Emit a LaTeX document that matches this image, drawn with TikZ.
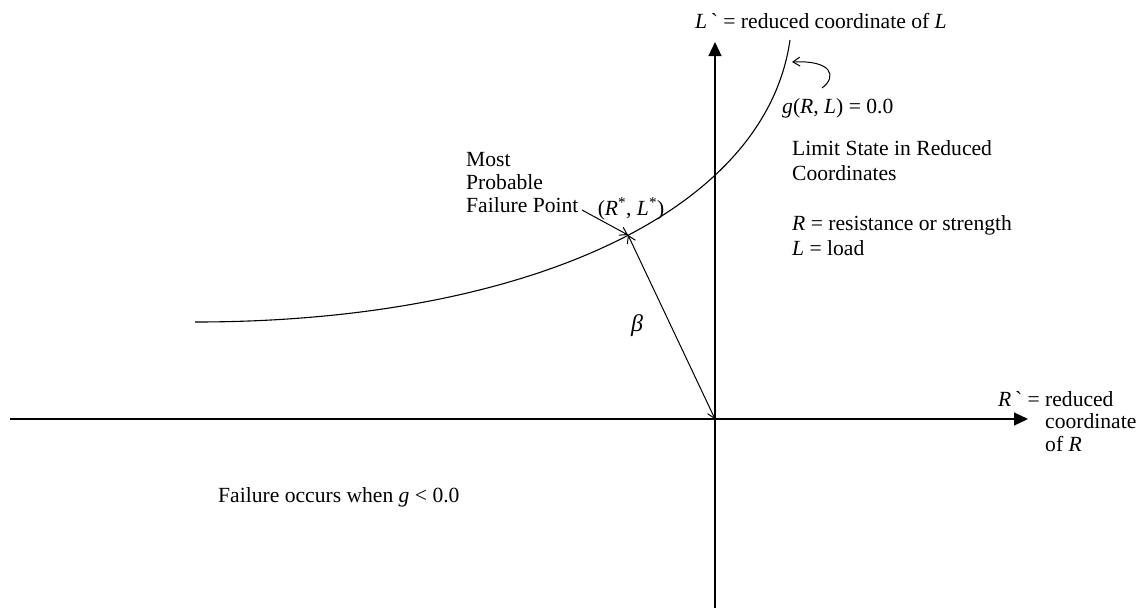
\documentclass[tikz,border=0pt]{standalone}
\usepackage{fontspec}
\newfontfamily\tnr{Liberation Serif}
\usetikzlibrary{arrows.meta}
\begin{document}
\begin{tikzpicture}[x=1pt,y=-1pt,
  lbl/.style={font=\tnr\fontsize{21.6}{25}\selectfont, inner sep=0pt, align=left},
  lbltight/.style={font=\tnr\fontsize{21.6}{23}\selectfont, inner sep=0pt, align=left},
  axisline/.style={line width=1.2pt, -{Triangle[length=14pt,width=13pt]}},
  curveline/.style={line width=1.1pt},
  ptr/.style={line width=1pt, -{Straight Barb[length=7pt,width=9pt]}},
  dptr/.style={line width=1pt, {Straight Barb[length=7pt,width=9pt]}-{Straight Barb[length=7pt,width=9pt]}}]
\useasboundingbox (0,0) rectangle (1145,614);
% axes
\coordinate (xl) at (10,419);
\coordinate (xr) at (1028,419);
\coordinate (yb) at (715,608);
\coordinate (yt) at (715,42);
\coordinate (O) at (715,419);
\coordinate (mpp) at (628,235);
\draw[axisline] (xl) -- (xr);
\draw[axisline] (yb) -- (yt);
% limit state curve
\coordinate (cs) at (195,322);
\coordinate (ce) at (790,40);
\draw[curveline] (cs) .. controls (520,322) and (765,215) .. (ce);
% beta
\draw[dptr] (O) -- (mpp);
\node[lbl, font=\tnr\fontsize{24}{26}\selectfont\itshape] (beta) at (637,326) {β};
% labels
\node[lbl, anchor=base west] (ltop) at (695,28) {\textit{L}\,` = reduced coordinate of \textit{L}};
\node[lbl, anchor=base west] (gl) at (782,113) {\textit{g}(\textit{R}, \textit{L}) = 0.0};
\coordinate (hooktail) at (822,88);
\coordinate (hooktip) at (792,62);
\draw[ptr] (hooktail) .. controls (838,76) and (831,60) .. (hooktip);
\node[lbl, anchor=north west] (lim) at (792,140) {Limit State in Reduced\\Coordinates\\[25pt]\textit{R} = resistance or strength\\\textit{L} = load};
\node[lbltight, anchor=north west] (most) at (466,152) {Most\\Probable\\Failure Point};
\coordinate (fp) at (582,210);
\draw[ptr] (fp) -- (mpp);
\node[lbl] (rl) at (631,209) {(\textit{R}\textsuperscript{*}, \textit{L}\textsuperscript{*})};
\node[lbl, anchor=base west] (rax) at (998,406) {\textit{R}\,` = reduced};
\node[lbltight, anchor=north west] (rax2) at (1045,413) {coordinate\\of \textit{R}};
\node[lbl, anchor=base west] (fail) at (218,502) {Failure occurs when \textit{g} < 0.0};
\end{tikzpicture}
\end{document}
